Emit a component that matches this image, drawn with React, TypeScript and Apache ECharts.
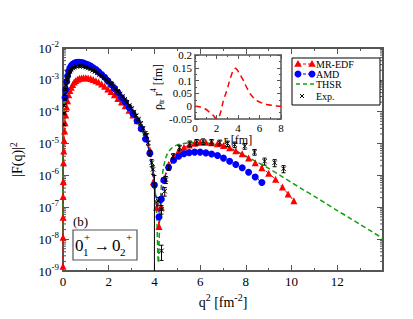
import React, { useEffect, useRef } from "react";
import * as echarts from "echarts";

const FONT = "Liberation Serif";
const AXIS = "#555";

// MR-EDF
const redQ2 = [0.0005, 0.0015, 0.003, 0.0066, 0.011, 0.022, 0.034, 0.05, 0.07, 0.09, 0.12, 0.16, 0.2, 0.25, 0.3, 0.36, 0.42, 0.49, 0.56, 0.64, 0.72, 0.81, 0.9, 1.0, 1.1, 1.21, 1.32, 1.44, 1.56, 1.69, 1.82, 1.96, 2.1, 2.25, 2.4, 2.56, 2.72, 2.89, 3.06, 3.24, 3.42, 3.61, 3.8, 3.95, 4.1, 4.2, 4.3, 4.41, 4.62, 4.84, 5.06, 5.29, 5.52, 5.76, 6.0, 6.25, 6.5, 6.76, 7.02, 7.29, 7.56, 7.84, 8.12, 8.41, 8.7, 9.0, 9.3, 9.6, 9.85, 10.1];
const redF = [1.4e-9, 1.15e-8, 4.9e-8, 2.2e-7, 6.5e-7, 2.5e-6, 5.8e-6, 1.26e-5, 2.5e-5, 4.5e-5, 7.9e-5, 1.4e-4, 2.2e-4, 3.4e-4, 4.6e-4, 5.9e-4, 7.2e-4, 8.5e-4, 9.5e-4, 1.05e-3, 1.12e-3, 1.15e-3, 1.17e-3, 1.17e-3, 1.15e-3, 1.1e-3, 1.02e-3, 9.3e-4, 8.5e-4, 7.4e-4, 6.3e-4, 5.2e-4, 4.3e-4, 3.4e-4, 2.6e-4, 2.0e-4, 1.55e-4, 1.12e-4, 7.9e-5, 5.2e-5, 3.2e-5, 1.66e-5, 6.3e-6, 6.3e-7, 1.0e-7, 2.5e-8, 1.0e-7, 7.9e-7, 2.2e-6, 4.0e-6, 5.9e-6, 7.6e-6, 9.1e-6, 1.02e-5, 1.1e-5, 1.1e-5, 1.07e-5, 9.8e-6, 8.7e-6, 7.4e-6, 6.0e-6, 4.8e-6, 3.5e-6, 2.5e-6, 1.74e-6, 1.17e-6, 7.6e-7, 4.3e-7, 2.6e-7, 1.6e-7];

// AMD
const amdQ2 = [0.09, 0.12, 0.16, 0.2, 0.25, 0.3, 0.36, 0.42, 0.49, 0.56, 0.64, 0.72, 0.81, 0.9, 1.0, 1.1, 1.21, 1.32, 1.44, 1.56, 1.69, 1.82, 1.96, 2.1, 2.25, 2.4, 2.56, 2.72, 2.89, 3.06, 3.24, 3.42, 3.61, 3.8, 4.0, 4.2, 4.3, 4.41, 4.62, 4.84, 5.06, 5.29, 5.52, 5.76, 6.0, 6.25, 6.5, 6.76, 7.02, 7.29, 7.56, 7.84, 8.12, 8.41, 8.7];
const amdF = [2.8e-4, 5.0e-4, 8.9e-4, 1.32e-3, 1.86e-3, 2.34e-3, 2.75e-3, 3.1e-3, 3.3e-3, 3.47e-3, 3.55e-3, 3.55e-3, 3.47e-3, 3.4e-3, 3.16e-3, 2.95e-3, 2.7e-3, 2.4e-3, 2.1e-3, 1.78e-3, 1.48e-3, 1.2e-3, 9.3e-4, 7.2e-4, 5.4e-4, 4.0e-4, 2.8e-4, 2.0e-4, 1.35e-4, 8.7e-5, 5.2e-5, 2.95e-5, 1.4e-5, 5.0e-6, 5.0e-7, 5.0e-8, 1.8e-7, 7.1e-7, 1.78e-6, 3.0e-6, 4.0e-6, 4.8e-6, 5.2e-6, 5.4e-6, 5.4e-6, 5.1e-6, 4.7e-6, 4.2e-6, 3.5e-6, 2.8e-6, 2.2e-6, 1.74e-6, 1.26e-6, 8.9e-7, 6.0e-7];

// THSR
const thsrQ2 = [0.0005, 0.001, 0.002, 0.004, 0.007, 0.012, 0.02, 0.03, 0.045, 0.065, 0.09, 0.12, 0.16, 0.2, 0.25, 0.3, 0.36, 0.45, 0.55, 0.65, 0.75, 0.85, 1.0, 1.2, 1.4, 1.6, 1.8, 2.0, 2.25, 2.5, 2.75, 3.0, 3.25, 3.5, 3.7, 3.85, 4.0, 4.1, 4.17, 4.24, 4.31, 4.41, 4.55, 4.75, 5.0, 5.5, 6.0, 6.5, 7.0, 7.5, 8.0, 8.5, 9.0, 9.5, 10.0, 10.5, 11.0, 11.5, 12.0, 12.5, 13.0, 13.5, 14.0];
const thsrF = [8.7e-9, 3.5e-8, 1.38e-7, 5.5e-7, 1.7e-6, 5.0e-6, 1.38e-5, 3.1e-5, 6.9e-5, 1.45e-4, 2.7e-4, 4.8e-4, 8.3e-4, 1.26e-3, 1.78e-3, 2.24e-3, 2.7e-3, 3.16e-3, 3.47e-3, 3.63e-3, 3.63e-3, 3.55e-3, 3.24e-3, 2.75e-3, 2.19e-3, 1.66e-3, 1.23e-3, 8.7e-4, 5.5e-4, 3.2e-4, 1.86e-4, 1.0e-4, 5.0e-5, 2.2e-5, 9.5e-6, 3.8e-6, 6.3e-7, 5.0e-8, 1.8e-9, 6.3e-8, 5.6e-7, 2.0e-6, 4.5e-6, 7.1e-6, 9.1e-6, 1.05e-5, 1.07e-5, 1.0e-5, 8.1e-6, 6.0e-6, 4.0e-6, 2.6e-6, 1.66e-6, 1.0e-6, 6.0e-7, 3.6e-7, 2.2e-7, 1.32e-7, 7.9e-8, 4.8e-8, 2.9e-8, 1.74e-8, 1.05e-8];

// Experiment
const expQ2 = [0.03, 0.045, 0.06, 0.075, 0.09, 0.11, 0.13, 0.16, 0.2, 0.25, 0.3, 0.36, 0.43, 0.5, 0.6, 0.7, 0.8, 0.9, 1.0, 1.1, 1.2, 1.3, 1.4, 1.5, 1.6, 1.7, 1.8, 1.9, 2.0, 2.1, 2.2, 2.3, 2.4, 2.5, 2.6, 2.7, 2.8, 2.9, 3.0, 3.1, 3.2, 3.3, 3.4, 3.5, 3.6, 3.66, 3.73, 3.8, 3.88, 3.94, 4.0, 4.16, 4.31, 4.31, 4.45, 4.5, 4.62, 4.82, 5.1, 5.55, 5.85, 6.13, 6.5, 6.86, 7.2, 7.51, 7.95, 8.38, 8.82, 9.26, 9.65];
const expF = [4.0e-5, 8.9e-5, 1.58e-4, 2.5e-4, 3.5e-4, 5.0e-4, 6.9e-4, 9.1e-4, 1.2e-3, 1.51e-3, 1.82e-3, 2.1e-3, 2.34e-3, 2.5e-3, 2.63e-3, 2.7e-3, 2.7e-3, 2.63e-3, 2.5e-3, 2.34e-3, 2.19e-3, 2.0e-3, 1.82e-3, 1.66e-3, 1.48e-3, 1.32e-3, 1.15e-3, 1.0e-3, 8.7e-4, 7.4e-4, 6.3e-4, 5.2e-4, 4.4e-4, 3.6e-4, 3.0e-4, 2.45e-4, 2.0e-4, 1.58e-4, 1.26e-4, 9.8e-5, 7.6e-5, 5.8e-5, 4.3e-5, 3.0e-5, 2.1e-5, 1.78e-5, 1.05e-5, 5.1e-6, 2.5e-6, 1.55e-6, 5.0e-7, 1.58e-7, 8.7e-8, 4.3e-9, 3.2e-7, 7.4e-7, 1.78e-6, 4.0e-6, 7.4e-6, 1.0e-5, 1.12e-5, 1.17e-5, 1.12e-5, 1.07e-5, 1.0e-5, 9.3e-6, 8.3e-6, 5.4e-6, 2.8e-6, 2.5e-6, 1.62e-6];
const expErr = [0.06, 0.06, 0.06, 0.06, 0.06, 0.06, 0.06, 0.06, 0.06, 0.06, 0.06, 0.06, 0.06, 0.06, 0.06, 0.06, 0.06, 0.06, 0.06, 0.06, 0.06, 0.06, 0.06, 0.06, 0.06, 0.06, 0.06, 0.06, 0.06, 0.06, 0.06, 0.06, 0.06, 0.06, 0.06, 0.06, 0.06, 0.06, 0.06, 0.08, 0.08, 0.08, 0.1, 0.1, 0.12, 0.15, 0.15, 0.2, 0.25, 0.3, 1.0, 0.3, 0.3, 0.5, 0.3, 0.25, 0.2, 0.2, 0.2, 0.2, 0.2, 0.2, 0.2, 0.2, 0.2, 0.2, 0.2, 0.2, 0.25, 0.25, 0.25];

// Inset: transition density
const insetR = [0, 0.5, 0.93, 1.4, 1.71, 2.02, 2.3, 2.49, 2.7, 2.96, 3.2, 3.42, 3.6, 3.74, 3.9, 4.05, 4.3, 4.51, 4.8, 5.14, 5.45, 5.76, 6.2, 6.69, 7.2, 7.63, 8.0];
const insetRho = [0, -0.003, -0.01, -0.025, -0.036, -0.05, -0.035, -0.004, 0.03, 0.061, 0.097, 0.126, 0.143, 0.148, 0.143, 0.133, 0.116, 0.1, 0.074, 0.048, 0.033, 0.022, 0.013, 0.0065, 0.003, 0.001, 0];

const legendNames = ["MR-EDF", "AMD", "THSR", "Exp."];

const yMinorTicks: number[] = [];
for (let e = -9; e < -2; e++) for (let m = 2; m <= 9; m++) yMinorTicks.push(m * Math.pow(10, e));

const pairs = (xs: number[], ys: number[]) => xs.map((x, i) => [x, ys[i]]);

const tok = (size: number, extra: any = {}) => ({ fontSize: size, fontFamily: FONT, color: "#000", verticalAlign: "middle", ...extra });

const richSup = { n: tok(13), s: tok(9, { padding: [0, 0, 8, 0] }) };
const richName = { n: tok(14), s: tok(10, { padding: [0, 0, 9, 0] }) };
const richInset = {
  n: tok(12),
  s: tok(8, { padding: [0, 0, 8, 0] }),
  b: tok(8, { padding: [7, 0, 0, 0] }),
};

const mainAxis = () => ({
  axisLine: { show: true, onZero: false, lineStyle: { color: AXIS, width: 2 } },
  axisTick: { show: true, inside: true, length: 6, lineStyle: { color: AXIS, width: 1 } },
  minorTick: { show: true, splitNumber: 2, length: 3, lineStyle: { color: AXIS, width: 1 } },
  splitLine: { show: false },
  minorSplitLine: { show: false },
});
const insetAxis = () => ({
  axisLine: { show: true, onZero: false, lineStyle: { color: AXIS, width: 1.5 } },
  axisTick: { show: true, inside: true, length: 4, lineStyle: { color: AXIS, width: 1 } },
  minorTick: { show: true, splitNumber: 2, length: 2, lineStyle: { color: AXIS, width: 1 } },
  splitLine: { show: false },
  minorSplitLine: { show: false },
  z: 6,
});

const txt = (text: string, x: number, y: number, size: number, extra: any = {}) => ({
  type: "text", x, y, z: 101,
  style: { text, fontSize: size, fontFamily: FONT, fill: "#000", verticalAlign: "middle", ...extra },
});

function buildOption() {
  const legendRows = [64, 74, 84, 96];
  const tri = (x: number, y: number) => ({
    type: "polygon", z: 102,
    shape: { points: [[x, y - 4], [x + 3.8, y + 2.8], [x - 3.8, y + 2.8]] },
    style: { fill: "#ff0000" },
  });
  return {
    animation: false,
    textStyle: { fontFamily: FONT },
    grid: [
      { left: 63, top: 48, right: 30, bottom: 48, outerBoundsMode: "none" },
      { left: 195, top: 55, right: 132, bottom: 200, outerBoundsMode: "none", show: true, backgroundColor: "#fff", borderWidth: 0 },
    ],
    xAxis: [
      {
        gridIndex: 0, type: "value", min: 0, max: 14, interval: 2, position: "bottom",
        ...mainAxis(),
        axisLabel: { fontSize: 13, fontFamily: FONT, color: "#000", margin: 4, showMaxLabel: false },
        name: "{n|q}{s|2}{n| [fm}{s|-2}{n|]}", nameLocation: "middle", nameGap: 13,
        nameTextStyle: { rich: richName },
      },
      {
        gridIndex: 0, type: "value", min: 0, max: 14, interval: 2, position: "top",
        ...mainAxis(), axisLabel: { show: false },
      },
      {
        gridIndex: 1, type: "value", min: 0, max: 8, interval: 2, position: "bottom",
        ...insetAxis(),
        axisLabel: { fontSize: 11, fontFamily: FONT, color: "#000", margin: 3 },
        name: "{n|r [fm]}", nameLocation: "middle", nameGap: 14, nameTextStyle: { rich: richInset },
      },
      {
        gridIndex: 1, type: "value", min: 0, max: 8, interval: 2, position: "top",
        ...insetAxis(), axisLabel: { show: false },
      },
    ],
    yAxis: [
      {
        gridIndex: 0, type: "log", logBase: 10, min: 1e-9, max: 1e-2, splitNumber: 7, position: "left",
        ...mainAxis(), minorTick: { show: false },
        axisLabel: {
          margin: 4,
          formatter: (v: number) => `{n|10}{s|${Math.round(Math.log10(v))}}`,
          rich: richSup,
        },
        name: "{n||F(q)|}{s|2}", nameLocation: "middle", nameGap: 36, nameTextStyle: { rich: richName },
      },
      {
        gridIndex: 0, type: "log", logBase: 10, min: 1e-9, max: 1e-2, splitNumber: 7, position: "right",
        ...mainAxis(), minorTick: { show: false }, axisLabel: { show: false },
      },
      {
        gridIndex: 1, type: "value", min: -0.05, max: 0.2, interval: 0.05, position: "left",
        ...insetAxis(),
        axisLabel: { fontSize: 11, fontFamily: FONT, color: "#000", margin: 3, formatter: (v: number) => String(+v.toFixed(2)) },
        name: "{n|ρ}{b|tr}{n| r}{s|4}{n| [fm]}", nameLocation: "middle", nameGap: 26, nameTextStyle: { rich: richInset },
      },
      {
        gridIndex: 1, type: "value", min: -0.05, max: 0.2, interval: 0.05, position: "right",
        ...insetAxis(), axisLabel: { show: false },
      },
    ],
    series: [
      {
        type: "custom", xAxisIndex: 0, yAxisIndex: 0, silent: true,
        data: yMinorTicks.map((v) => [0, v]), encode: { x: 0, y: 1 },
        renderItem: (_p: any, api: any) => {
          const v = api.value(1);
          const l = api.coord([0, v]);
          const r = api.coord([14, v]);
          return {
            type: "group",
            children: [
              { type: "line", shape: { x1: l[0], y1: l[1], x2: l[0] + 3, y2: l[1] }, style: { stroke: AXIS, lineWidth: 1 } },
              { type: "line", shape: { x1: r[0] - 3, y1: r[1], x2: r[0], y2: r[1] }, style: { stroke: AXIS, lineWidth: 1 } },
            ],
          };
        },
      },
      {
        name: "THSR", type: "line", xAxisIndex: 0, yAxisIndex: 0, data: pairs(thsrQ2, thsrF),
        showSymbol: false, symbol: "none", smooth: 0.3,
        lineStyle: { color: "#11a011", width: 1.5, type: [5, 3] }, z: 2,
      },
      {
        name: "MR-EDF", type: "line", xAxisIndex: 0, yAxisIndex: 0, data: pairs(redQ2, redF),
        symbol: "triangle", symbolSize: 7, itemStyle: { color: "#ff0000" },
        lineStyle: { color: "#ff0000", width: 1, type: [4, 3] }, z: 3,
      },
      {
        name: "AMD", type: "line", xAxisIndex: 0, yAxisIndex: 0, data: pairs(amdQ2, amdF),
        symbol: "circle", symbolSize: 7, itemStyle: { color: "#0000ff" },
        lineStyle: { color: "#0000ff", width: 1, type: [4, 3] }, z: 4,
      },
      {
        name: "Exp.", type: "custom", xAxisIndex: 0, yAxisIndex: 0, clip: true,
        data: expQ2.map((q, i) => [q, expF[i], expF[i] * (1 - expErr[i]), expF[i] * (1 + expErr[i])]),
        encode: { x: 0, y: 1 }, z: 5,
        renderItem: (_p: any, api: any) => {
          const x = api.value(0), y = api.value(1), lo = api.value(2), hi = api.value(3);
          const c = api.coord([x, y]);
          const bottomClamped = lo <= 1e-9;
          const cl = api.coord([x, Math.max(lo, 1e-9)]);
          const ch = api.coord([x, hi]);
          const k = 2.2;
          const st = { stroke: "#000", lineWidth: 1 };
          const children: any[] = [
            { type: "line", shape: { x1: c[0], y1: cl[1], x2: c[0], y2: ch[1] }, style: st },
            { type: "line", shape: { x1: c[0] - 2, y1: ch[1], x2: c[0] + 2, y2: ch[1] }, style: st },
            { type: "line", shape: { x1: c[0] - k, y1: c[1] - k, x2: c[0] + k, y2: c[1] + k }, style: st },
            { type: "line", shape: { x1: c[0] - k, y1: c[1] + k, x2: c[0] + k, y2: c[1] - k }, style: st },
          ];
          if (!bottomClamped) {
            children.push({ type: "line", shape: { x1: c[0] - 2, y1: cl[1], x2: c[0] + 2, y2: cl[1] }, style: st });
          }
          return { type: "group", children };
        },
      },
      {
        type: "line", xAxisIndex: 2, yAxisIndex: 2, data: pairs(insetR, insetRho),
        symbol: "none", smooth: 0.4, z: 7,
        lineStyle: { color: "#ff0000", width: 1.5, type: [6, 4] },
      },
    ],
    graphic: [
      txt("(b)", 73, 221, 13),
      { type: "rect", shape: { x: 73, y: 230, width: 64, height: 30 }, style: { fill: "#fff", stroke: AXIS, lineWidth: 1.2 }, z: 100 },
      txt("0", 75, 245, 17),
      txt("1", 83, 252, 11),
      txt("+", 84, 237, 11),
      txt("→", 94, 245, 16),
      txt("0", 112, 245, 17),
      txt("2", 120, 252, 11),
      txt("+", 126, 237, 11),

      { type: "rect", shape: { x: 292, y: 58, width: 88, height: 47 }, style: { fill: "#fff", stroke: "#000", lineWidth: 1 }, z: 100 },
      { type: "line", shape: { x1: 298, y1: legendRows[0], x2: 312, y2: legendRows[0] }, style: { stroke: "#ff0000", lineWidth: 1, lineDash: [3, 2] }, z: 101 },
      tri(298, legendRows[0]),
      tri(312, legendRows[0]),
      { type: "line", shape: { x1: 298, y1: legendRows[1], x2: 312, y2: legendRows[1] }, style: { stroke: "#0000ff", lineWidth: 1, lineDash: [3, 2] }, z: 101 },
      { type: "circle", shape: { cx: 298, cy: legendRows[1], r: 3.5 }, style: { fill: "#0000ff" }, z: 102 },
      { type: "circle", shape: { cx: 312, cy: legendRows[1], r: 3.5 }, style: { fill: "#0000ff" }, z: 102 },
      { type: "line", shape: { x1: 296, y1: legendRows[2], x2: 314, y2: legendRows[2] }, style: { stroke: "#11a011", lineWidth: 1.5, lineDash: [4, 3] }, z: 101 },
      { type: "line", shape: { x1: 300, y1: legendRows[3] - 2, x2: 304, y2: legendRows[3] + 2 }, style: { stroke: "#000", lineWidth: 1 }, z: 101 },
      { type: "line", shape: { x1: 300, y1: legendRows[3] + 2, x2: 304, y2: legendRows[3] - 2 }, style: { stroke: "#000", lineWidth: 1 }, z: 101 },
      ...legendNames.map((t, i) => txt(t, 316, legendRows[i], 10, { lineHeight: 10 })),
    ],
  };
}

export default function App() {
  const ref = useRef<HTMLDivElement>(null);
  useEffect(() => {
    document.body.style.margin = "0";
    const chart = echarts.init(ref.current!, null, { renderer: "svg" });
    chart.setOption(buildOption() as any);
    return () => chart.dispose();
  }, []);
  return <div ref={ref} style={{ width: 413, height: 319 }} />;
}
